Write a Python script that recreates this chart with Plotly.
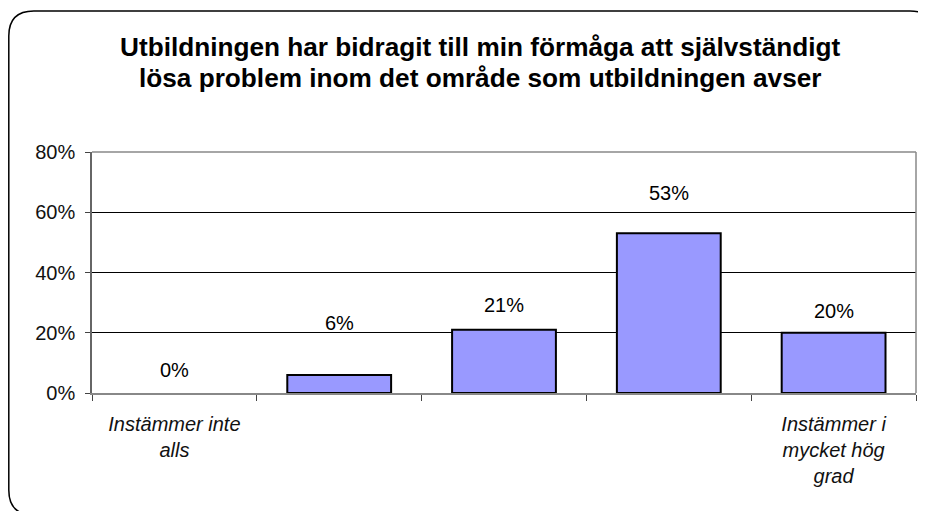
import plotly.graph_objects as go

categories = ["Instämmer inte<br>alls", " ", "  ", "   ", "Instämmer i<br>mycket hög<br>grad"]
values = [0, 6, 21, 53, 20]
value_labels = ["0%", "6%", "21%", "53%", "20%"]
y_ticks = [0, 20, 40, 60, 80]
y_tick_labels = ["0%", "20%", "40%", "60%", "80%"]
title_lines = ["Utbildningen har bidragit till min förmåga att självständigt",
               "lösa problem inom det område som utbildningen avser"]

# style: label vertical offsets (px) as placed in the original
label_shift = [23, 52, 25, 40, 22]

# page has an 8px body margin; figure sized to fill the rest of the window
W, H = 918, 503
L, R, T, B = 84, 10, 144, 118
pw, ph = W - L - R, H - T - B

def px(x):
    return (x - L) / pw

def py(y):
    return (H - B - y) / ph

FONT = "Liberation Sans, Arial, sans-serif"

outline_widths = [0 if v == 0 else 2 for v in values]

fig = go.Figure()
fig.add_trace(go.Bar(
    x=categories, y=values,
    marker=dict(color="#9999FF", line=dict(color="black", width=outline_widths)),
    width=0.63,
    hoverinfo="skip",
))

for c, v, t, s in zip(categories, values, value_labels, label_shift):
    fig.add_annotation(x=c, y=v, text=t, showarrow=False, yshift=s,
                       font=dict(size=20, color="black", family=FONT),
                       xref="x", yref="y")

# title as two lines
for i, line in enumerate(title_lines):
    fig.add_annotation(x=px(472), y=py(39 + 31 * i), xref="paper", yref="paper",
                       text=line, showarrow=False, xanchor="center", yanchor="middle",
                       font=dict(size=26.2, color="black", family=FONT, weight="bold"))

# outer rounded border
x0, x1, y0, y1, r = px(0.8), px(927), py(3), py(507), 25
rx, ry = r / pw, r / ph
path = (f"M {x0+rx},{y0} L {x1-rx},{y0} Q {x1},{y0} {x1},{y0-ry} "
        f"L {x1},{y1+ry} Q {x1},{y1} {x1-rx},{y1} L {x0+rx},{y1} "
        f"Q {x0},{y1} {x0},{y1+ry} L {x0},{y0-ry} Q {x0},{y0} {x0+rx},{y0} Z")
fig.add_shape(type="path", path=path, xref="paper", yref="paper",
              line=dict(color="black", width=1.5), layer="below")

# plot area frame (top/right grey)
fig.add_shape(type="line", xref="paper", yref="paper", x0=0, x1=1, y0=1, y1=1,
              line=dict(color="#888888", width=1.5))
fig.add_shape(type="line", xref="paper", yref="paper", x0=1, x1=1, y0=0, y1=1,
              line=dict(color="#888888", width=1.5))

fig.update_layout(
    width=W, height=H,
    margin=dict(l=L, r=R, t=T, b=B),
    paper_bgcolor="white", plot_bgcolor="white",
    showlegend=False,
    font=dict(family=FONT),
    bargap=0.37,
)
fig.update_xaxes(
    type="category", tickson="boundaries", ticks="outside", ticklen=6,
    tickcolor="#444444", showline=True, linecolor="#888888", linewidth=2,
    showgrid=False, ticklabelstandoff=12,
    tickfont=dict(size=20, color="#111111", family=FONT, style="italic"),
    range=[-0.5, 4.5],
)
fig.update_yaxes(
    range=[0, 80], tickvals=y_ticks, ticktext=y_tick_labels,
    ticks="outside", ticklen=5, tickcolor="#444444",
    showline=True, linecolor="#666666", linewidth=1.5,
    showgrid=True, gridcolor="black", gridwidth=1,
    zeroline=False, ticklabelstandoff=6,
    tickfont=dict(size=20, color="#111111", family=FONT),
)

fig.write_html("out.html")
